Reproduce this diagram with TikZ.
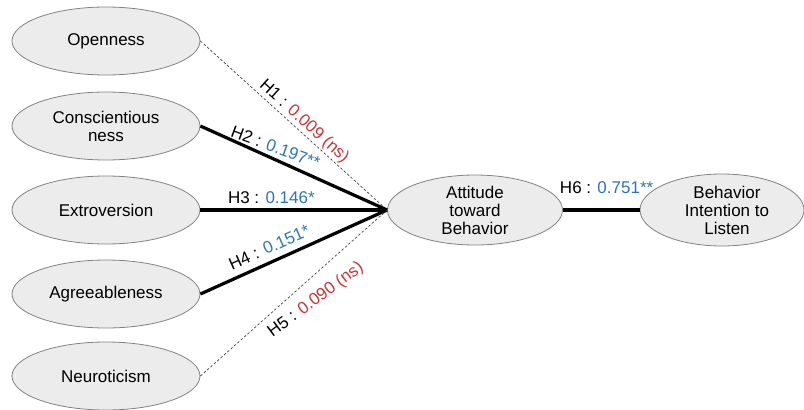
\documentclass[tikz,border=0pt]{standalone}
\usepackage{fontspec}
\setmainfont{Liberation Sans}
\usetikzlibrary{shapes.geometric}
\definecolor{nsred}{RGB}{204,51,51}
\definecolor{sigblue}{RGB}{46,117,182}
\definecolor{ovfill}{RGB}{236,236,236}
\definecolor{ovline}{RGB}{130,130,130}
\begin{document}
\begin{tikzpicture}[x=1pt,y=-1pt,
  font=\fontsize{17}{18}\selectfont,
  trait/.style={ellipse, draw=ovline, fill=ovfill, line width=0.8pt,
    minimum width=188pt, minimum height=68pt, inner sep=0pt, align=center},
  txt/.style={align=center, inner sep=0pt},
  strong/.style={line width=3.2pt, draw=black},
  weak/.style={line width=0.7pt, draw=black!75, dash pattern=on 2.5pt off 2pt},
  hyp/.style={sloped, inner sep=0pt, text height=12pt, text depth=0pt}]
\useasboundingbox (0,0) rectangle (804,410);

% personality traits
\node[trait] (o) at (106,41)  {Openness};
\node[trait] (c) at (106,126) {Conscientious\\ness};
\node[trait] (e) at (106,210) {Extroversion};
\node[trait] (a) at (106,294) {Agreeableness};
\node[trait] (n) at (106,376) {Neuroticism};

% attitude and intention
\node[trait, minimum width=175pt, minimum height=70pt] (att) at (475,210) {};
\node[txt] (att-t) at (att) {Attitude\\toward\\Behavior};
\node[trait, minimum width=164pt, minimum height=72pt] (bi) at (722,210) {};
\node[txt] (bi-t) at (727,210) {Behavior\\Intention to\\Listen};

% paths
\draw[weak] (o.east) -- (att.west)
  node[hyp, pos=0.52, above=5pt] {H1 : \textcolor{nsred}{0.009 (ns)}};
\draw[strong] (c.east) -- (att.west)
  node[hyp, pos=0.38, above=4pt, rotate=4] {H2 : \textcolor{sigblue}{0.197**}};
\draw[strong] (e.east) -- (att.west)
  node[hyp, pos=0.38, above=5pt] {H3 : \textcolor{sigblue}{0.146*}};
\draw[strong] (a.east) -- (att.west)
  node[hyp, pos=0.40, above=7pt] {H4 : \textcolor{sigblue}{0.151*}};
\draw[weak] (n.east) -- (att.west)
  node[hyp, pos=0.55, below=12pt, rotate=-5] {H5 : \textcolor{nsred}{0.090 (ns)}};
\draw[strong] (att.east) -- (bi.west)
  node[hyp, pos=0.57, above=15pt] {H6 : \textcolor{sigblue}{0.751**}};
\end{tikzpicture}
\end{document}
